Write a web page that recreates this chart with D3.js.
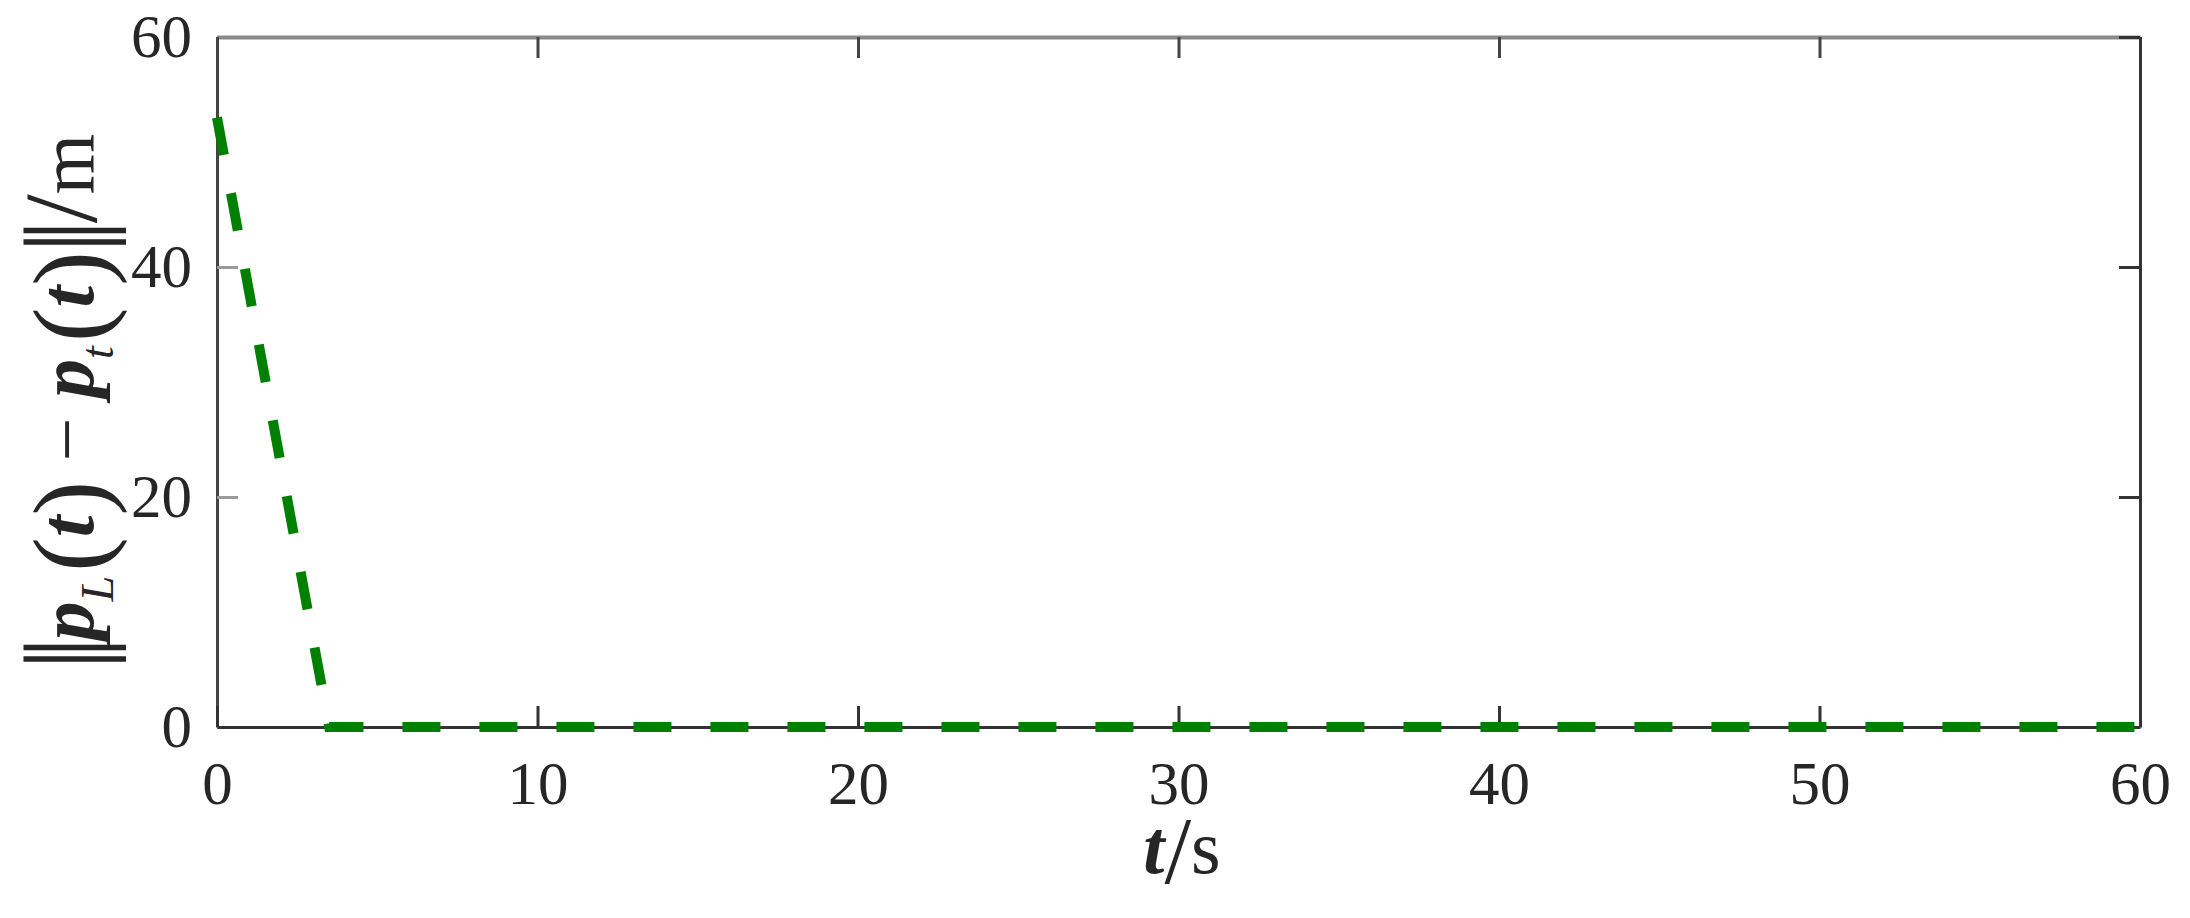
<!DOCTYPE html>
<html>
<head>
<meta charset="utf-8">
<script src="https://cdn.jsdelivr.net/npm/d3@7"></script>
<style>
  body { margin: 0; background: #fff; }
  svg text { font-family: "Liberation Serif", "Times New Roman", serif; fill: #262626; }
</style>
</head>
<body>
<div id="chart-area"></div>
<script>
// series: distance between leader and target over time
const timeS = [0, 3.5, 60];
const distM = [53, 0, 0];

const xTicks = [0, 10, 20, 30, 40, 50, 60];
const yTicks = [0, 20, 40, 60];

const chartSize = { width: 2190, height: 918 };
const margin = { left: 217, right: 50, top: 37, bottom: 191 };
const width = chartSize.width - margin.left - margin.right;
const height = chartSize.height - margin.top - margin.bottom;

const svg = d3
  .select("#chart-area")
  .append("svg")
  .attr("width", chartSize.width)
  .attr("height", chartSize.height);

const g = svg
  .append("g")
  .attr("transform", `translate(${margin.left}, ${margin.top})`);

const x = d3.scaleLinear().domain([0, 60]).range([0, width]);
const y = d3.scaleLinear().domain([0, 60]).range([height, 0]);

const tickLen = 21;

// left axis
const yAxis = g
  .append("g")
  .attr("class", "y axis")
  .call(
    d3.axisLeft(y).tickValues(yTicks).tickSizeInner(-tickLen).tickSizeOuter(0).tickPadding(25)
  );
yAxis.select(".domain").attr("stroke", "#444").attr("stroke-width", 3);
yAxis.selectAll(".tick line").attr("stroke", "#9a9a9a").attr("stroke-width", 3);
yAxis.selectAll(".tick text").attr("font-size", 61).attr("fill", "#262626");

// bottom axis
const xAxis = g
  .append("g")
  .attr("class", "x axis")
  .attr("transform", `translate(0, ${height})`)
  .call(
    d3.axisBottom(x).tickValues(xTicks).tickSizeInner(-tickLen).tickSizeOuter(0).tickPadding(34)
  );
xAxis.select(".domain").attr("stroke", "#333").attr("stroke-width", 3);
xAxis.selectAll(".tick line").attr("stroke", "#333").attr("stroke-width", 3);
xAxis.selectAll(".tick text").attr("font-size", 61).attr("fill", "#262626");

// top axis (box)
const topAxis = g
  .append("g")
  .call(d3.axisTop(x).tickValues(xTicks).tickSizeInner(-tickLen).tickSizeOuter(0).tickFormat(""));
topAxis.select(".domain").attr("stroke", "#8a8a8a").attr("stroke-width", 4);
topAxis.selectAll(".tick line").attr("stroke", "#444").attr("stroke-width", 3);

// right axis (box)
const rightAxis = g
  .append("g")
  .attr("transform", `translate(${width}, 0)`)
  .call(d3.axisRight(y).tickValues(yTicks).tickSizeInner(-tickLen).tickSizeOuter(0).tickFormat(""));
rightAxis.select(".domain").attr("stroke", "#333").attr("stroke-width", 3);
rightAxis.selectAll(".tick line").attr("stroke", "#333").attr("stroke-width", 3);

// data line
const line = d3
  .line()
  .x((d, i) => x(timeS[i]))
  .y(d => y(d));

g.append("path")
  .attr("d", line(distM))
  .attr("fill", "none")
  .attr("stroke", "#008000")
  .attr("stroke-width", 10)
  .attr("stroke-dasharray", "38,39")
  .attr("stroke-linejoin", "miter");

// x label: t / s
const xLabel = svg
  .append("text")
  .attr("x", 1182)
  .attr("y", 873)
  .attr("text-anchor", "middle")
  .attr("fill", "#000");
xLabel.append("tspan").attr("font-size", 76).attr("font-weight", "bold").attr("font-style", "italic").text("t");
xLabel.append("tspan").attr("font-size", 96).attr("dy", 10).text("/");
xLabel.append("tspan").attr("font-size", 76).attr("dy", -10).text("s");

// y label: ||p_L(t) - p_t(t)||/m
const yLabel = svg
  .append("text")
  .attr("transform", "translate(93, 402) rotate(-90)")
  .attr("text-anchor", "middle")
  .attr("fill", "#000");
const big = 104;
const bars = 112;
const main = 78;
const addT = (txt, opts = {}) => {
  const t = yLabel.append("tspan").text(txt).attr("font-size", opts.size || main);
  if (opts.bi) t.attr("font-weight", "bold").attr("font-style", "italic");
  if (opts.it) t.attr("font-style", "italic");
  if (opts.dy) t.attr("dy", opts.dy);
  if (opts.dx) t.attr("dx", opts.dx);
  return t;
};
addT("|", { size: bars, dy: 9 });
addT("|", { size: bars, dx: -11 });
addT("p", { bi: true, dy: -9, dx: -4 });
addT("L", { it: true, size: 46, dy: 20 });
addT("(", { size: big, dy: -8, dx: 4 });
addT("t", { bi: true, dy: -12 });
addT(")", { size: big, dy: 12 });
addT(" \u2212 ", { dy: -12 });
addT("p", { bi: true });
addT("t", { it: true, size: 46, dy: 20 });
addT("(", { size: big, dy: -8, dx: 4 });
addT("t", { bi: true, dy: -12 });
addT(")", { size: big, dy: 12 });
addT("|", { size: bars, dy: -3, dx: -2 });
addT("|", { size: bars, dx: -11 });
addT("/", { size: big, dy: -6, dx: -4 });
addT("m", { dy: -3 });
</script>
</body>
</html>
